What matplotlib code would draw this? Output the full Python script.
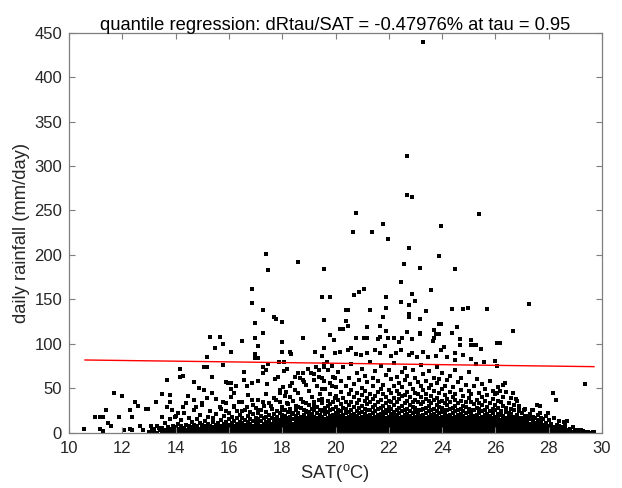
import matplotlib
matplotlib.use("Agg")
import matplotlib.pyplot as plt

plt.rcParams['font.family'] = ['Liberation Sans', 'DejaVu Sans']
plt.rcParams['mathtext.fontset'] = 'custom'
plt.rcParams['mathtext.rm'] = 'Liberation Sans'

# single days away from the main cloud (SAT degC, rainfall mm/day)
sparse_days = [
    (23.27, 440), (22.68, 311), (22.68, 267), (22.88, 265), (20.77, 247.5),
    (25.37, 246), (21.78, 235), (23.97, 232), (20.67, 226), (21.38, 226),
    (21.98, 218), (22.77, 208), (23.87, 199), (22.57, 189.5), (23.17, 185),
    (24.47, 184), (22.47, 169.5), (21.08, 162), (20.88, 158), (20.68, 155),
    (23.57, 160), (21.88, 152.5), (22.88, 155.5), (22.98, 148.5), (22.47, 147),
    (22.77, 143.5), (27.27, 145), (20.38, 137.5), (20.48, 137.5), (21.28, 137.5),
    (21.88, 140), (23.38, 136.5), (24.37, 139), (24.77, 139), (24.97, 140.5),
    (25.67, 139), (22.77, 133), (22.77, 130.5), (21.78, 130), (23.17, 128),
    (20.38, 126), (20.48, 120), (20.18, 117), (20.28, 117), (21.18, 118.5),
    (21.68, 119.5), (21.88, 114.5), (23.87, 122.5), (23.97, 122.5), (23.68, 115.5),
    (23.77, 111.5), (23.87, 111.5), (24.57, 118.5), (24.37, 112), (26.67, 114.5),
    (22.67, 113), (23.17, 111), (20.78, 107), (21.08, 106.5), (21.18, 107),
    (21.58, 105.5), (21.98, 106), (22.18, 107), (22.48, 106), (22.88, 105.5),
    (23.68, 106), (24.67, 105), (25.07, 104.5),
    (17.38, 201), (18.58, 191.5), (19.58, 184.5), (17.48, 183.5), (16.88, 162),
    (19.48, 153), (19.78, 153), (16.88, 145.5), (17.28, 137.5), (17.68, 130.5),
    (17.78, 127.5), (17.98, 124), (19.58, 126.5), (16.98, 123), (17.28, 112),
    (19.78, 109.5), (15.28, 107.5), (15.68, 107.5), (16.98, 106), (18.78, 106),
    (19.93, 104), (16.48, 103), (17.98, 102), (26.17, 100.5), (25.07, 98.6),
]

mid_days = [
    (15.47, 95), (15.78, 100), (17.08, 98), (16.08, 91), (16.98, 89), (17.08, 84),
    (16.98, 83.5), (17.98, 91), (18.28, 91), (18.33, 88.5), (19.23, 91), (19.58, 95.5),
    (19.48, 86.5), (15.18, 85.5), (15.08, 73.5), (15.18, 73.5), (15.78, 76),
    (17.48, 77.5), (17.88, 80), (18.08, 80), (16.58, 68.5), (17.28, 73.5), (17.38, 70),
    (17.28, 67), (18.18, 71.5), (18.08, 69), (18.58, 67.5), (18.78, 67.5), (18.48, 63),
    (18.68, 62), (18.98, 71.5), (19.08, 67), (19.28, 73.5), (19.38, 70), (19.58, 77.5),
    (19.68, 79), (19.88, 75.5), (19.58, 73.5), (14.18, 71.5), (14.28, 64), (14.18, 62.5),
    (13.68, 59.5), (14.68, 56.5), (15.38, 62.5), (15.88, 57.5), (15.98, 55.5),
    (16.08, 55.5), (16.08, 49), (16.28, 52.5), (16.18, 45), (16.58, 59.5), (16.88, 55.5),
    (17.08, 58.5), (16.68, 52), (17.73, 60), (17.83, 63), (17.43, 54.5), (18.03, 51),
    (17.93, 44.5), (18.13, 46), (18.38, 55.5), (18.48, 48), (18.28, 40.5), (18.78, 59.5),
    (18.88, 53.5), (19.18, 59.5), (19.38, 63), (19.58, 58.5), (19.48, 49), (19.88, 52.5),
    (19.98, 62),
    (10.58, 4.5), (10.98, 18), (11.18, 18), (11.28, 18), (11.38, 25.5), (11.68, 45),
    (11.98, 41.5), (11.58, 8), (11.48, 11), (11.88, 17.5), (11.18, 4), (11.28, 1.5),
    (12.08, 3), (12.28, 4), (12.38, 2.5), (12.28, 25.5), (12.38, 17.5), (12.48, 34),
    (12.58, 30), (12.68, 8), (12.78, 3), (12.88, 26.5), (12.98, 26.5), (13.08, 7),
    (13.18, 4.5), (13.38, 5), (13.28, 34), (13.48, 43.5), (13.78, 42), (13.48, 17.5),
    (13.78, 34), (13.68, 28.5), (13.88, 25.5), (13.98, 17.5), (14.08, 22), (14.28, 28.5),
    (14.38, 33), (14.48, 41.5), (14.68, 37), (14.88, 50), (15.08, 48), (14.78, 28.5),
    (14.98, 33), (15.18, 38.5), (15.38, 44.5), (15.68, 29), (15.78, 35), (15.88, 24),
    (16.08, 40), (16.18, 30), (16.38, 35), (16.48, 24), (16.68, 29), (16.88, 37),
    (17.08, 25.5), (17.28, 34), (17.38, 23.5), (17.58, 30), (17.78, 37), (17.98, 25.5),
    (18.18, 33), (18.38, 22.5), (18.58, 28.5), (18.78, 35), (18.98, 23.5), (19.18, 30),
    (19.38, 37), (19.58, 25.5), (19.78, 32.5), (19.98, 38.5),
    (19.97, 89.3), (20.17, 90.8), (20.47, 93), (20.57, 95), (20.77, 88.5), (20.97, 87),
    (21.17, 90), (21.47, 93), (21.67, 90), (21.87, 97), (22.07, 86.3), (22.27, 89.3),
    (22.47, 93), (22.77, 87.4), (22.87, 90), (23.07, 85.5), (23.27, 90.8), (23.47, 85.5),
    (23.77, 86.3), (23.97, 93), (24.17, 84.8), (24.47, 81.8), (24.77, 87), (25.07, 82.5),
    (25.27, 77.3), (25.57, 79.5), (25.97, 81), (26.07, 75), (21.67, 107.3), (22.37, 102.4),
    (23.17, 111.7), (23.67, 103.5), (24.07, 96.8), (24.47, 90), (24.67, 98.6),
    (25.17, 98.6), (25.27, 98.6), (25.47, 93.8), (26.07, 100.5),
    (29.37, 55), (28.17, 45), (28.27, 37), (27.67, 30), (27.57, 31.5), (27.97, 22.5),
    (27.67, 22), (28.67, 13), (28.57, 12), (27.27, 19), (27.37, 25.5), (27.07, 25),
    (26.87, 30), (26.67, 44.5), (26.77, 37.5), (26.37, 55.5), (26.27, 53.5),
    (26.07, 44.5), (26.17, 46.5), (29.07, 2.5), (29.27, 2), (29.47, 1), (29.67, 0.5),
]

# the crowded low-rain band, one list of rainfall values per 0.1 degC of SAT
low_band = {
    13.0: [1], 13.1: [0, 4], 13.2: [2], 13.3: [0, 7], 13.4: [3], 13.5: [1, 5],
    13.6: [0, 3, 11], 13.7: [2, 6], 13.8: [0, 4, 15], 13.9: [1, 3, 8],
    14.0: [0, 2, 6, 19], 14.1: [1, 4, 10], 14.2: [0, 3, 7, 14], 14.3: [2, 5, 22],
    14.4: [0, 3, 9], 14.5: [1, 4, 7, 17], 14.6: [0, 2, 6, 12], 14.7: [1, 5, 9, 26],
    14.8: [0, 3, 8, 15], 14.9: [2, 4, 11, 20],
    15.0: [0, 3, 6, 9, 31], 15.1: [1, 4, 7, 13], 15.2: [0, 2, 5, 10, 18],
    15.3: [1, 4, 8, 24], 15.4: [0, 3, 6, 12, 16], 15.5: [2, 5, 9, 21, 38],
    15.6: [0, 3, 7, 11], 15.7: [1, 4, 8, 14, 27], 15.8: [0, 2, 6, 10, 19],
    15.9: [1, 4, 7, 12, 33],
    16.0: [0, 3, 6, 9, 15, 22], 16.1: [1, 4, 7, 11, 18], 16.2: [0, 2, 5, 8, 13, 29],
    16.3: [1, 3, 6, 10, 16, 24], 16.4: [0, 4, 7, 12, 20], 16.5: [2, 5, 8, 11, 17, 35],
    16.6: [0, 3, 6, 9, 14, 26], 16.7: [1, 4, 7, 12, 19, 42], 16.8: [0, 3, 6, 10, 15, 23],
    16.9: [2, 5, 8, 13, 21, 31],
    17.0: [0, 3, 6, 9, 12, 17, 28], 17.1: [1, 4, 7, 11, 15, 22, 37],
    17.2: [0, 2, 5, 8, 13, 19, 25], 17.3: [1, 4, 7, 10, 16, 30],
    17.4: [0, 3, 6, 9, 12, 18, 23, 44], 17.5: [2, 5, 8, 11, 14, 20, 33],
    17.6: [0, 3, 6, 10, 16, 27], 17.7: [1, 4, 7, 12, 15, 21, 39],
    17.8: [0, 3, 5, 9, 13, 18, 24], 17.9: [2, 4, 7, 10, 14, 22, 35, 48],
    18.0: [0, 3, 6, 9, 12, 16, 20, 29], 18.1: [1, 4, 7, 10, 14, 19, 26, 41],
    18.2: [0, 2, 5, 8, 12, 17, 23, 32], 18.3: [1, 4, 6, 9, 13, 18, 27, 53],
    18.4: [0, 3, 6, 10, 15, 21, 36], 18.5: [2, 5, 8, 11, 14, 19, 25, 30],
    18.6: [0, 3, 6, 9, 12, 16, 22, 45], 18.7: [1, 4, 7, 10, 13, 18, 28, 38],
    18.8: [0, 2, 5, 8, 11, 15, 20, 26, 57], 18.9: [1, 3, 6, 9, 13, 17, 24, 33],
    19.0: [0, 3, 6, 9, 12, 15, 19, 23, 31, 47], 19.1: [1, 4, 7, 10, 13, 17, 21, 27, 40],
    19.2: [0, 2, 5, 8, 11, 14, 18, 25, 35, 66], 19.3: [1, 4, 6, 9, 12, 16, 22, 29, 52],
    19.4: [0, 3, 6, 9, 13, 17, 20, 26, 43], 19.5: [2, 5, 8, 11, 14, 18, 24, 33, 38, 61],
    19.6: [0, 3, 6, 9, 12, 15, 21, 28, 49], 19.7: [1, 4, 7, 10, 13, 17, 23, 30, 36, 70],
    19.8: [0, 2, 5, 8, 11, 14, 19, 25, 44, 56], 19.9: [1, 3, 6, 9, 12, 16, 20, 27, 34, 63],
    20.0: [0, 3, 6, 9, 12, 15, 18, 22, 29, 41, 51],
    20.1: [1, 4, 7, 10, 13, 17, 21, 26, 37, 68],
    20.2: [0, 2, 5, 8, 11, 14, 19, 24, 32, 46, 58],
    20.3: [1, 4, 6, 9, 12, 16, 20, 28, 39, 74],
    20.4: [0, 3, 6, 9, 13, 17, 22, 27, 35, 53],
    20.5: [2, 5, 8, 11, 14, 18, 23, 31, 43, 62],
    20.6: [0, 3, 6, 9, 12, 15, 20, 26, 34, 48, 77],
    20.7: [1, 4, 7, 10, 13, 17, 21, 29, 40, 55],
    20.8: [0, 2, 5, 8, 11, 15, 19, 24, 33, 45, 67],
    20.9: [1, 3, 6, 9, 12, 16, 22, 28, 37, 59],
    21.0: [0, 3, 6, 9, 12, 15, 18, 23, 30, 42, 50, 72],
    21.1: [1, 4, 7, 10, 13, 17, 21, 27, 36, 47, 64],
    21.2: [0, 2, 5, 8, 11, 14, 19, 25, 32, 39, 57],
    21.3: [1, 4, 6, 9, 12, 16, 20, 26, 35, 44, 80],
    21.4: [0, 3, 6, 9, 13, 17, 22, 29, 38, 52, 61],
    21.5: [2, 5, 8, 11, 14, 18, 24, 31, 41, 69],
    21.6: [0, 3, 6, 9, 12, 15, 20, 27, 34, 46, 58],
    21.7: [1, 4, 7, 10, 13, 17, 21, 28, 37, 49, 75],
    21.8: [0, 2, 5, 8, 11, 15, 19, 23, 30, 43, 54],
    21.9: [1, 3, 6, 9, 12, 16, 22, 26, 33, 40, 65],
    22.0: [0, 3, 6, 9, 12, 15, 18, 24, 29, 36, 48, 71],
    22.1: [1, 4, 7, 10, 13, 17, 21, 27, 35, 45, 60],
    22.2: [0, 2, 5, 8, 11, 14, 19, 23, 31, 39, 53, 78],
    22.3: [1, 4, 6, 9, 12, 16, 20, 26, 34, 47, 63],
    22.4: [0, 3, 6, 9, 13, 17, 22, 28, 38, 44, 56],
    22.5: [2, 5, 8, 11, 14, 18, 24, 30, 41, 51, 68],
    22.6: [0, 3, 6, 9, 12, 15, 20, 25, 33, 42, 59, 73],
    22.7: [1, 4, 7, 10, 13, 17, 21, 27, 36, 46, 64],
    22.8: [0, 2, 5, 8, 11, 15, 19, 24, 31, 40, 55],
    22.9: [1, 3, 6, 9, 12, 16, 22, 29, 35, 49, 70],
    23.0: [0, 3, 6, 9, 12, 15, 18, 23, 28, 37, 45, 61],
    23.1: [1, 4, 7, 10, 13, 17, 21, 26, 34, 43, 57],
    23.2: [0, 2, 5, 8, 11, 14, 19, 25, 32, 40, 52, 76],
    23.3: [1, 4, 6, 9, 12, 16, 20, 27, 35, 48, 66],
    23.4: [0, 3, 6, 9, 13, 17, 22, 28, 38, 44, 58],
    23.5: [2, 5, 8, 11, 14, 18, 24, 30, 36, 50, 69],
    23.6: [0, 3, 6, 9, 12, 15, 20, 26, 33, 41, 54],
    23.7: [1, 4, 7, 10, 13, 17, 21, 27, 37, 47, 62],
    23.8: [0, 2, 5, 8, 11, 15, 19, 24, 31, 39, 56, 74],
    23.9: [1, 3, 6, 9, 12, 16, 22, 29, 34, 45, 60],
    24.0: [0, 3, 6, 9, 12, 15, 18, 23, 28, 36, 49, 67],
    24.1: [1, 4, 7, 10, 13, 17, 21, 26, 33, 42, 53],
    24.2: [0, 2, 5, 8, 11, 14, 19, 25, 31, 38, 59],
    24.3: [1, 4, 6, 9, 12, 16, 20, 27, 35, 46, 64],
    24.4: [0, 3, 6, 9, 13, 17, 22, 28, 40, 51],
    24.5: [2, 5, 8, 11, 14, 18, 24, 30, 37, 44, 71],
    24.6: [0, 3, 6, 9, 12, 15, 20, 26, 33, 57],
    24.7: [1, 4, 7, 10, 13, 17, 21, 27, 36, 48, 62],
    24.8: [0, 2, 5, 8, 11, 15, 19, 24, 30, 41],
    24.9: [1, 3, 6, 9, 12, 16, 22, 29, 35, 54],
    25.0: [0, 3, 6, 9, 12, 15, 18, 23, 27, 39, 47, 68],
    25.1: [1, 4, 7, 10, 13, 17, 21, 26, 34, 44],
    25.2: [0, 2, 5, 8, 11, 14, 19, 25, 32, 52],
    25.3: [1, 4, 6, 9, 12, 16, 20, 28, 37, 60],
    25.4: [0, 3, 6, 9, 13, 17, 22, 27, 33, 45],
    25.5: [2, 5, 8, 11, 14, 18, 24, 31, 40, 55],
    25.6: [0, 3, 6, 9, 12, 15, 20, 26, 36, 49],
    25.7: [1, 4, 7, 10, 13, 17, 21, 29, 42],
    25.8: [0, 2, 5, 8, 11, 15, 19, 24, 33, 58],
    25.9: [1, 3, 6, 9, 12, 16, 22, 27, 38, 47],
    26.0: [0, 3, 6, 9, 12, 15, 18, 25, 31, 43],
    26.1: [1, 4, 7, 10, 13, 17, 21, 28, 36, 51],
    26.2: [0, 2, 5, 8, 11, 14, 20, 24, 34],
    26.3: [1, 4, 6, 9, 12, 16, 19, 30, 40],
    26.4: [0, 3, 6, 9, 13, 17, 23, 28, 46],
    26.5: [2, 5, 8, 11, 14, 18, 22, 33],
    26.6: [0, 3, 6, 9, 12, 16, 21, 27, 39],
    26.7: [1, 4, 7, 10, 13, 18, 25, 31],
    26.8: [0, 2, 5, 8, 11, 15, 20, 36],
    26.9: [1, 3, 6, 9, 12, 17, 24, 29],
    27.0: [0, 3, 6, 9, 13, 16, 22], 27.1: [1, 4, 7, 10, 14, 19, 27],
    27.2: [0, 2, 5, 8, 12, 17], 27.3: [1, 4, 7, 10, 15, 21],
    27.4: [0, 3, 6, 9, 13, 18, 26], 27.5: [2, 5, 8, 11, 16],
    27.6: [0, 3, 6, 10, 14, 20], 27.7: [1, 4, 7, 12, 17],
    27.8: [0, 2, 5, 9, 15], 27.9: [1, 3, 6, 11, 19],
    28.0: [0, 3, 5, 8, 14], 28.1: [1, 4, 7, 10], 28.2: [0, 2, 6, 16],
    28.3: [1, 3, 5, 9], 28.4: [0, 2, 4, 7, 13], 28.5: [1, 3, 6],
    28.6: [0, 2, 5, 10], 28.7: [1, 3], 28.8: [0, 2, 4], 28.9: [1, 6],
    29.0: [0, 2], 29.1: [1], 29.2: [0, 3], 29.4: [1], 29.5: [0], 29.7: [1],
}

# 95th-percentile regression line, relative slope in % per degC
fit_pct = -0.47976
fit_sat = [10.6, 29.7]
fit_start = 81.8

sat = [p[0] for p in sparse_days + mid_days]
rain = [p[1] for p in sparse_days + mid_days]
for t, vals in low_band.items():
    for r in vals:
        sat.append(t)
        rain.append(r)

fit_rain = [fit_start * (1 + fit_pct / 100 * (t - fit_sat[0])) for t in fit_sat]

fig = plt.figure(figsize=(6.22, 4.88), dpi=100)
ax = fig.add_axes([69 / 622, 1 - 432.7 / 488, 533 / 622, 400 / 488])

ax.scatter(sat, rain, s=6, c='black', marker='s', linewidths=0)
ax.plot(fit_sat, fit_rain, color='red', lw=1)

ax.set_xlim(10, 30)
ax.set_ylim(0, 450)
ax.set_xticks(range(10, 31, 2))
ax.set_yticks(range(0, 451, 50))
ax.tick_params(direction='in', length=4, width=0.8, top=True, right=True,
               labelsize=12, colors='#7f7f7f', labelcolor='#262626')
ax.tick_params(axis='x', pad=6)
ax.tick_params(axis='y', pad=5)
for sp in ax.spines.values():
    sp.set_color('#7f7f7f')
    sp.set_linewidth(0.9)

ax.set_title('quantile regression: dRtau/SAT = -0.47976% at tau = 0.95',
             fontsize=13.2, color='#000000', pad=2)
ax.set_xlabel(r'SAT($^{\mathrm{o}}$C)', fontsize=13.2, color='#262626', labelpad=4)
ax.set_ylabel('daily rainfall (mm/day)', fontsize=13.2, color='#262626', labelpad=3)

fig.savefig('out.png', dpi=100)
